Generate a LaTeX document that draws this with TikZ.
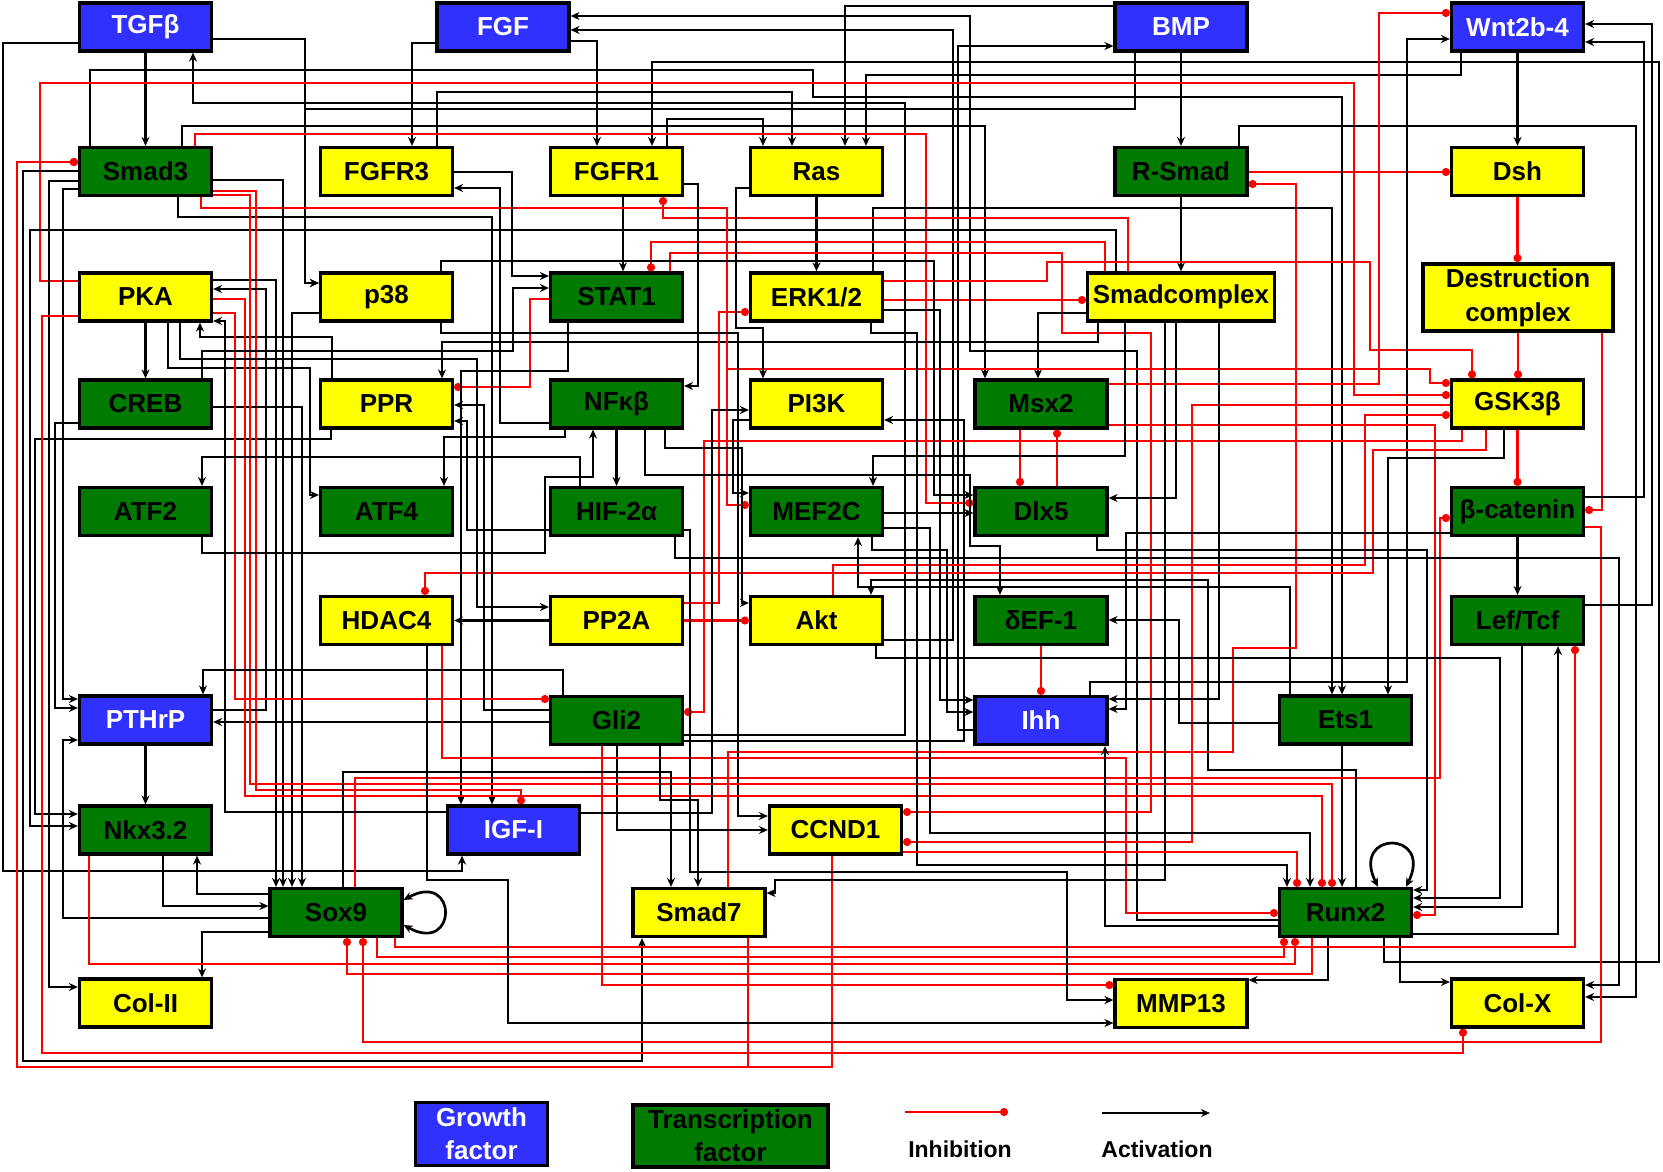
\documentclass[tikz,border=0pt]{standalone}
\usepackage{fontspec}
\setmainfont{Liberation Sans}
\usetikzlibrary{arrows.meta}
\pgfdeclarelayer{bgfill}
\pgfdeclarelayer{edges}
\pgfsetlayers{bgfill,edges,main}
\definecolor{gfblue}{RGB}{48,48,255}
\definecolor{tfgreen}{RGB}{0,122,0}
\definecolor{yel}{RGB}{255,255,0}
\definecolor{inhred}{RGB}{255,0,0}
\begin{document}
\begin{tikzpicture}[x=1pt,y=-1pt,
  box/.style={draw=black,line width=3.2pt,minimum width=132pt,minimum height=48pt,inner sep=0pt,font=\bfseries\fontsize{26}{30}\selectfont},
  gf/.style={box,fill=gfblue,text=white},
  tf/.style={box,fill=tfgreen,text=black},
  yb/.style={box,fill=yel,text=black},
  act/.style={draw=black,line width=2.7pt,-{Stealth[length=9pt,width=8pt]}},
  inh/.style={draw=inhred,line width=2.7pt,-{Circle[length=8pt]}},
  loopst/.style={draw=black,line width=2.7pt,{Stealth[length=9pt,width=8pt]}-{Stealth[length=9pt,width=8pt]}},
  lab/.style={font=\bfseries\fontsize{23}{28}\selectfont}
]
\useasboundingbox (0,0) rectangle (1663,1172);
\begin{pgfonlayer}{bgfill}
\fill[white] (0,0) rectangle (1663,1172);
\end{pgfonlayer}
% ---------------- nodes
\node[gf] (tgf) at (145.5,27) {TGFβ};
\node[gf] (fgf) at (503,27) {FGF};
\node[gf] (bmp) at (1181,27) {BMP};
\node[gf] (wnt) at (1517.5,27) {Wnt2b-4};
\node[tf] (smad3) at (145.5,171.5) {Smad3};
\node[yb] (fgfr3) at (386.5,171.5) {FGFR3};
\node[yb] (fgfr1) at (616.5,171.5) {FGFR1};
\node[yb] (ras) at (816.5,171.5) {Ras};
\node[tf] (rsmad) at (1181,171.5) {R-Smad};
\node[yb] (dsh) at (1517.5,171.5) {Dsh};
\node[yb] (pka) at (145.5,297) {PKA};
\node[yb] (p38) at (386.5,297) {p38};
\node[tf] (stat1) at (616.5,297) {STAT1};
\node[yb] (erk) at (816.5,297) {ERK1/2};
\node[yb,minimum width=187pt] (smadc) at (1181,297) {Smadcomplex};
\node[yb,line width=4pt,minimum width=190pt,minimum height=67pt,align=center,font=\bfseries\fontsize{26}{34}\selectfont] (dest) at (1518,297.5) {Destruction\\complex};
\node[tf] (creb) at (145.5,404) {CREB};
\node[yb] (ppr) at (386.5,404) {PPR};
\node[tf] (nfkb) at (616.5,404) {NFκβ};
\node[yb] (pi3k) at (816.5,404) {PI3K};
\node[tf] (msx2) at (1041,404) {Msx2};
\node[yb] (gsk) at (1517.5,404) {GSK3β};
\node[tf] (atf2) at (145.5,511.5) {ATF2};
\node[tf] (atf4) at (386.5,511.5) {ATF4};
\node[tf] (hif) at (616.5,511.5) {HIF-2α};
\node[tf] (mef2c) at (816.5,511.5) {MEF2C};
\node[tf] (dlx5) at (1041,511.5) {Dlx5};
\node[tf] (bcat) at (1517.5,511.5) {β-catenin};
\node[yb] (hdac4) at (386.5,620.5) {HDAC4};
\node[yb] (pp2a) at (616.5,620.5) {PP2A};
\node[yb] (akt) at (816.5,620.5) {Akt};
\node[tf] (def1) at (1041,620.5) {δEF-1};
\node[tf] (lef) at (1517.5,620.5) {Lef/Tcf};
\node[gf] (pthrp) at (145.5,720) {PTHrP};
\node[tf] (gli2) at (616.5,720.5) {Gli2};
\node[gf] (ihh) at (1041,720.5) {Ihh};
\node[tf] (ets1) at (1345.5,720) {Ets1};
\node[tf] (nkx) at (145.5,830) {Nkx3.2};
\node[gf] (igf) at (513.5,830) {IGF-I};
\node[yb] (ccnd1) at (835.5,830) {CCND1};
\node[tf] (sox9) at (336,912.5) {Sox9};
\node[yb] (smad7) at (699,912.5) {Smad7};
\node[tf] (runx2) at (1345.5,912.5) {Runx2};
\node[yb] (colII) at (145.5,1003) {Col-II};
\node[yb] (mmp13) at (1181,1003.5) {MMP13};
\node[yb] (colX) at (1517.5,1003) {Col-X};
% legend
\node[gf,minimum height=63pt,align=center,font=\bfseries\fontsize{26}{33}\selectfont] (lgf) at (481.5,1134) {Growth\\factor};
\node[tf,line width=4pt,minimum width=195pt,minimum height=62pt,align=center,font=\bfseries\fontsize{26}{33}\selectfont] (ltf) at (730.5,1136) {Transcription\\factor};
\coordinate (li1) at (905,1112);
\coordinate (li2) at (1008,1112);
\coordinate (la1) at (1102,1113);
\coordinate (la2) at (1210,1113);
\node[lab] (ilab) at (960,1149) {Inhibition};
\node[lab] (alab) at (1157,1149) {Activation};

\begin{pgfonlayer}{edges}
\draw[inh] (li1) -- (li2);
\draw[act] (la1) -- (la2);
% straight ones
\draw[act] (tgf.south) -- (smad3.north);
\draw[act] (bmp.south) -- (rsmad.north);
\draw[act] (rsmad.south) -- (smadc.north);
\draw[act] (wnt.south) -- (dsh.north);
\draw[inh] (dsh.south) -- (dest.north -| dsh.south);
\draw[inh] (dest.south) -- (gsk.north -| dest.south);
\draw[inh] (gsk.south) -- (bcat.north);
\draw[act] (bcat.south) -- (lef.north);
\draw[inh] (dest.south -| 1602,0) -- (1602,510) -- (bcat.east |- 0,510);
\draw[inh] (msx2.south -| 1020,0) -- (dlx5.north -| 1020,0);
\draw[inh] (dlx5.north -| 1057,0) -- (msx2.south -| 1057,0);
\draw[inh] (def1.south) -- (ihh.north);
\draw[act] (ras.south) -- (erk.north);
\draw[act] (fgfr1.south -| 623,0) -- (stat1.north -| 623,0);
\draw[act] (pka.south) -- (creb.north);
\draw[act] (pthrp.south) -- (nkx.north);
\draw[act] (nfkb.south) -- (hif.north);
\draw[act] (pp2a.west) -- (hdac4.east);
\draw[inh] (pp2a.east) -- (akt.west);
\draw[act] (ets1.south -| 1342,0) -- (runx2.north -| 1342,0);
\draw[act] (mef2c.east |- 0,513) -- (dlx5.west |- 0,513);
\draw[inh] (erk.east |- 0,300) -- (smadc.west |- 0,300);
\draw[inh] (rsmad.east |- 0,172) -- (dsh.west |- 0,172);
\draw[act] (gli2.west |- 0,722) -- (pthrp.east |- 0,722);
% loops
\draw[loopst] (sox9.east |- 0,900) .. controls (458,870) and (458,955) .. (sox9.east |- 0,925);
\draw[loopst] (runx2.north -| 1378,0) .. controls (1350,830) and (1434,830) .. (runx2.north -| 1406,0);
% top region
\draw[act] (tgf.east |- 0,39) -- (305,39) -- (305,283) -- (p38.west |- 0,283);
\draw[act] (bmp.south -| 1135,0) -- (1135,109) -- (305,109) -- (305,283) -- (p38.west |- 0,283);
\draw[act] (tgf.west |- 0,43) -- (3,43) -- (3,871) -- (462,871) -- (igf.south -| 462,0);
\draw[act] (gli2.east |- 0,735) -- (905,735) -- (905,103) -- (193,103) -- (tgf.south -| 193,0);
\draw[act] (fgf.east |- 0,41) -- (597,41) -- (fgfr1.north -| 597,0);
\draw[act] (fgf.west |- 0,43) -- (412,43) -- (fgfr3.north -| 412,0);
\draw[act] (runx2.west |- 0,920) -- (1137,920) -- (1137,351) -- (970,351) -- (970,16) -- (fgf.east |- 0,16);
\draw[act] (akt.east |- 0,640) -- (953,640) -- (953,30) -- (fgf.east |- 0,30);
\draw[act] (ihh.west |- 0,730) -- (958,730) -- (958,46) -- (bmp.west |- 0,46);
\draw[act] (bmp.west |- 0,6) -- (845,6) -- (ras.north -| 845,0);
\draw[act] (wnt.south -| 1461,0) -- (1461,75) -- (866,75) -- (ras.north -| 866,0);
\draw[act] (fgfr3.north -| 437,0) -- (437,92) -- (792,92) -- (ras.north -| 792,0);
\draw[act] (fgfr1.north -| 667,0) -- (667,119) -- (763,119) -- (ras.north -| 763,0);
\draw[act] (runx2.south -| 1384,0) -- (1384,962) -- (1659,962) -- (1659,62) -- (652,62) -- (fgfr1.north -| 652,0);
\draw[act] (smad3.north -| 90,0) -- (90,70) -- (813,70) -- (813,97) -- (1342,97) -- (ets1.north -| 1342,0);
\draw[act] (smad3.north -| 182,0) -- (182,126) -- (985,126) -- (msx2.north -| 985,0);
\draw[inh] (smad3.north -| 195,0) -- (195,134) -- (926,134) -- (926,503) -- (dlx5.west |- 0,503);
\draw[inh] (pka.west |- 0,281) -- (40,281) -- (40,83) -- (1354,83) -- (1354,395) -- (gsk.west |- 0,395);
\draw[act] (rsmad.north -| 1239,0) -- (1239,126) -- (1636,126) -- (1636,997) -- (colX.east |- 0,997);
\draw[inh] (smad7.north -| 728,0) -- (728,752) -- (1233,752) -- (1233,648) -- (1296,648) -- (1296,184) -- (rsmad.east |- 0,184);
\draw[act] (erk.north -| 873,0) -- (873,208) -- (1332,208) -- (ets1.north -| 1332,0);
\draw[inh] (smadc.north -| 1128,0) -- (1128,218) -- (663,218) -- (fgfr1.south -| 663,0);
\draw[act] (smadc.north -| 1116,0) -- (1116,230) -- (30,230) -- (30,826) -- (nkx.west |- 0,826);
\draw[inh] (smadc.north -| 1105,0) -- (1105,242) -- (651,242) -- (stat1.north -| 651,0);
\draw[inh] (stat1.north -| 670,0) -- (670,253) -- (1062,253) -- (1062,333) -- (1151,333) -- (1151,812) -- (ccnd1.east |- 0,812);
\draw[inh] (erk.east |- 0,281) -- (1047,281) -- (1047,262) -- (1370,262) -- (1370,350) -- (1472,350) -- (gsk.north -| 1472,0);
\draw[act] (smadc.west |- 0,313) -- (1038,313) -- (msx2.north -| 1038,0);
\draw[act] (smadc.south -| 1098,0) -- (1098,342) -- (442,342) -- (ppr.north -| 442,0);
\draw[act] (ppr.north -| 332,0) -- (332,337) -- (200,337) -- (pka.south -| 200,0);
\draw[act] (pka.south -| 168,0) -- (168,368) -- (310,368) -- (310,495) -- (atf4.west |- 0,495);
\draw[act] (creb.west |- 0,423) -- (55,423) -- (55,708) -- (pthrp.west |- 0,708);
\draw[act] (smad3.west |- 0,189) -- (63,189) -- (63,699) -- (pthrp.west |- 0,699);
\draw[act] (sox9.west |- 0,918) -- (63,918) -- (63,740) -- (pthrp.west |- 0,740);
\draw[act] (ppr.south -| 331,0) -- (331,439) -- (35,439) -- (35,814) -- (nkx.west |- 0,814);
\draw[act] (smad3.west |- 0,171) -- (23,171) -- (23,1061) -- (642,1061) -- (smad7.south -| 642,0);
\draw[inh] (ccnd1.south -| 832,0) -- (832,1067) -- (17,1067) -- (17,162) -- (smad3.west |- 0,162);
\draw[inh] (smad7.south -| 748,0) -- (748,1067) -- (17,1067) -- (17,162) -- (smad3.west |- 0,162);
\draw[act] (smad3.west |- 0,181) -- (49,181) -- (49,987) -- (colII.west |- 0,987);
% bottom region
\draw[act] (sox9.west |- 0,932) -- (202,932) -- (colII.north -| 202,0);
\draw[act] (sox9.west |- 0,894) -- (197,894) -- (nkx.south -| 197,0);
\draw[act] (nkx.south -| 163,0) -- (163,906) -- (sox9.west |- 0,906);
\draw[inh] (nkx.south -| 89,0) -- (89,964) -- (1295,964) -- (runx2.south -| 1295,0);
\draw[act] (runx2.south -| 1328,0) -- (1328,980) -- (mmp13.east |- 0,980);
\draw[act] (runx2.south -| 1400,0) -- (1400,982) -- (colX.west |- 0,982);
\draw[inh] (bcat.east |- 0,527) -- (1601,527) -- (1601,1042) -- (363,1042) -- (sox9.south -| 363,0);
\draw[inh] (pka.west |- 0,316) -- (42,316) -- (42,1053) -- (1463,1053) -- (colX.south -| 1463,0);
\draw[inh] (gli2.south -| 602,0) -- (602,985) -- (mmp13.west |- 0,985);
\draw[inh] (sox9.south -| 377,0) -- (377,957) -- (1284,957) -- (runx2.south -| 1284,0);
\draw[inh] (sox9.south -| 395,0) -- (395,947) -- (1575,947) -- (lef.south -| 1575,0);
\draw[inh] (runx2.south -| 1312,0) -- (1312,974) -- (347,974) -- (sox9.south -| 347,0);
\draw[act] (runx2.east |- 0,934) -- (1558,934) -- (lef.south -| 1558,0);
\draw[act] (lef.south -| 1522,0) -- (1522,907) -- (runx2.east |- 0,907);
\draw[act] (lef.east |- 0,605) -- (1652,605) -- (1652,24) -- (wnt.east |- 0,24);
\draw[act] (bcat.east |- 0,497) -- (1644,497) -- (1644,42) -- (wnt.east |- 0,42);
\draw[inh] (msx2.east |- 0,384) -- (1379,384) -- (1379,13) -- (wnt.west |- 0,13);
\draw[act] (ihh.north -| 1090,0) -- (1090,682) -- (1407,682) -- (1407,39) -- (wnt.west |- 0,39);
\draw[inh] (gsk.west |- 0,405) -- (1192,405) -- (1192,842) -- (ccnd1.east |- 0,842);
\draw[inh] (akt.north -| 833,0) -- (833,565) -- (1365,565) -- (1365,415) -- (gsk.west |- 0,415);
\draw[inh] (gsk.south -| 1486,0) -- (1486,450) -- (1373,450) -- (1373,573) -- (425,573) -- (hdac4.north -| 425,0);
\draw[inh] (gsk.south -| 1462,0) -- (1462,441) -- (704,441) -- (704,712) -- (gli2.east |- 0,712);
\draw[inh] (sox9.north -| 355,0) -- (355,778) -- (1440,778) -- (1440,518) -- (bcat.west |- 0,518);
\draw[inh] (msx2.east |- 0,425) -- (1435,425) -- (1435,915) -- (runx2.east |- 0,915);
\draw[inh] (smad3.south -| 201,0) -- (201,208) -- (727,208) -- (727,369) -- (1430,369) -- (1430,383) -- (gsk.west |- 0,383);
\draw[inh] (smad3.south -| 201,0) -- (201,208) -- (727,208) -- (727,505) -- (mef2c.west |- 0,505);
\draw[inh] (pp2a.east |- 0,603) -- (719,603) -- (719,312) -- (erk.west |- 0,312);
\draw[inh] (stat1.west |- 0,299) -- (530,299) -- (530,387) -- (ppr.east |- 0,387);
\draw[act] (fgfr3.east |- 0,172) -- (512,172) -- (512,276) -- (stat1.west |- 0,276);
\draw[act] (nfkb.west |- 0,423) -- (500,423) -- (500,188) -- (fgfr3.east |- 0,188);
\draw[act] (fgfr1.east |- 0,184) -- (698,184) -- (698,386) -- (nfkb.east |- 0,386);
\draw[act] (ras.west |- 0,188) -- (736,188) -- (736,328) -- (763,328) -- (pi3k.north -| 763,0);
\draw[act] (p38.north -| 441,0) -- (441,261) -- (934,261) -- (934,495) -- (dlx5.west |- 0,495);
\draw[act] (p38.south -| 441,0) -- (441,333) -- (738,333) -- (738,816) -- (ccnd1.west |- 0,816);
\draw[act] (gli2.south -| 617,0) -- (617,830) -- (ccnd1.west |- 0,830);
\draw[act] (smad3.south -| 178,0) -- (178,217) -- (492,217) -- (igf.north -| 492,0);
\draw[act] (stat1.south -| 568,0) -- (568,371) -- (461,371) -- (igf.north -| 461,0);
\draw[inh] (smad3.east |- 0,191) -- (256,191) -- (256,790) -- (521,790) -- (igf.north -| 521,0);
\draw[act] (smad3.east |- 0,180) -- (283,180) -- (sox9.north -| 283,0);
\draw[act] (pka.east |- 0,280) -- (276,280) -- (sox9.north -| 276,0);
\draw[act] (p38.west |- 0,313) -- (292,313) -- (sox9.north -| 292,0);
\draw[act] (creb.east |- 0,407) -- (302,407) -- (sox9.north -| 302,0);
\draw[act] (pthrp.east |- 0,710) -- (266,710) -- (266,289) -- (pka.east |- 0,289);
\draw[inh] (pka.east |- 0,313) -- (235,313) -- (235,699) -- (gli2.west |- 0,699);
\draw[act] (igf.west |- 0,812) -- (225,812) -- (225,321) -- (pka.east |- 0,321);
\draw[inh] (pka.east |- 0,299) -- (245,299) -- (245,796) -- (1322,796) -- (runx2.north -| 1322,0);
\draw[inh] (smad3.east |- 0,195) -- (250,195) -- (250,784) -- (1332,784) -- (runx2.north -| 1332,0);
\draw[inh] (hdac4.south -| 442,0) -- (442,758) -- (1126,758) -- (1126,913) -- (runx2.west |- 0,913);
\draw[act] (mef2c.east |- 0,528) -- (930,528) -- (930,833) -- (1310,833) -- (runx2.north -| 1310,0);
\draw[act] (erk.south -| 871,0) -- (871,333) -- (917,333) -- (917,865) -- (1287,865) -- (runx2.north -| 1287,0);
\draw[act] (runx2.west |- 0,926) -- (1105,926) -- (ihh.south -| 1105,0);
\draw[act] (smadc.south -| 1165,0) -- (1165,880) -- (775,880) -- (775,893) -- (smad7.east |- 0,893);
\draw[act] (smadc.south -| 1176,0) -- (1176,498) -- (dlx5.east |- 0,498);
\draw[act] (smadc.south -| 1219,0) -- (1219,699) -- (ihh.east |- 0,699);
\draw[act] (smadc.south -| 1125,0) -- (1125,456) -- (873,456) -- (mef2c.north -| 873,0);
\draw[act] (mef2c.south -| 872,0) -- (872,550) -- (947,550) -- (947,712) -- (ihh.west |- 0,712);
\draw[act] (erk.east |- 0,310) -- (940,310) -- (940,700) -- (ihh.west |- 0,700);
\draw[act] (bcat.west |- 0,533) -- (1126,533) -- (1126,709) -- (ihh.east |- 0,709);
\draw[act] (ets1.west |- 0,723) -- (1179,723) -- (1179,620) -- (def1.east |- 0,620);
\draw[act] (nfkb.south -| 645,0) -- (645,475) -- (970,475) -- (970,546) -- (1000,546) -- (def1.north -| 1000,0);
\draw[act] (pi3k.west |- 0,420) -- (733,420) -- (733,493) -- (mef2c.west |- 0,493);
\draw[act] (igf.east |- 0,813) -- (712,813) -- (712,410) -- (pi3k.west |- 0,410);
\draw[act] (gli2.east |- 0,741) -- (964,741) -- (964,420) -- (pi3k.east |- 0,420);
\draw[act] (runx2.north -| 1356,0) -- (1356,770) -- (1208,770) -- (1208,580) -- (871,580) -- (akt.north -| 871,0);
\draw[act] (ets1.north -| 1290,0) -- (1290,587) -- (858,587) -- (mef2c.south -| 858,0);
\draw[act] (sox9.north -| 343,0) -- (343,772) -- (671,772) -- (smad7.north -| 671,0);
\draw[act] (gli2.south -| 660,0) -- (660,800) -- (698,800) -- (smad7.north -| 698,0);
\draw[act] (nfkb.south -| 665,0) -- (665,448) -- (742,448) -- (742,603) -- (akt.west |- 0,603);
\draw[act] (atf2.south -| 202,0) -- (202,553) -- (545,553) -- (545,477) -- (593,477) -- (nfkb.south -| 593,0);
\draw[act] (hif.north -| 580,0) -- (580,457) -- (202,457) -- (atf2.north -| 202,0);
\draw[act] (gli2.west |- 0,710) -- (484,710) -- (484,405) -- (ppr.east |- 0,405);
\draw[act] (hif.west |- 0,530) -- (467,530) -- (467,421) -- (ppr.east |- 0,421);
\draw[act] (nfkb.south -| 565,0) -- (565,437) -- (444,437) -- (atf4.north -| 444,0);
\draw[act] (hif.east |- 0,530) -- (690,530) -- (690,872) -- (1067,872) -- (1067,1000) -- (mmp13.west |- 0,1000);
\draw[act] (hif.south -| 675,0) -- (675,558) -- (1619,558) -- (1619,985) -- (colX.east |- 0,985);
\draw[act] (dlx5.south -| 1097,0) -- (1097,550) -- (1427,550) -- (1427,890) -- (runx2.east |- 0,890);
\draw[act] (akt.south -| 876,0) -- (876,658) -- (1500,658) -- (1500,898) -- (runx2.east |- 0,898);
\draw[act] (gsk.south -| 1504,0) -- (1504,458) -- (1388,458) -- (ets1.north -| 1388,0);
\draw[act] (gli2.north -| 563,0) -- (563,670) -- (203,670) -- (pthrp.north -| 203,0);
\draw[act] (pka.south -| 180,0) -- (180,359) -- (477,359) -- (477,607) -- (pp2a.west |- 0,607);
\draw[act] (creb.north -| 202,0) -- (202,351) -- (513,351) -- (513,288) -- (stat1.west |- 0,288);
\draw[act] (hdac4.south -| 427,0) -- (427,880) -- (508,880) -- (508,1023) -- (mmp13.west |- 0,1023);
\draw[inh] (ccnd1.east |- 0,852) -- (1297,852) -- (runx2.north -| 1297,0);
\end{pgfonlayer}
\end{tikzpicture}
\end{document}
